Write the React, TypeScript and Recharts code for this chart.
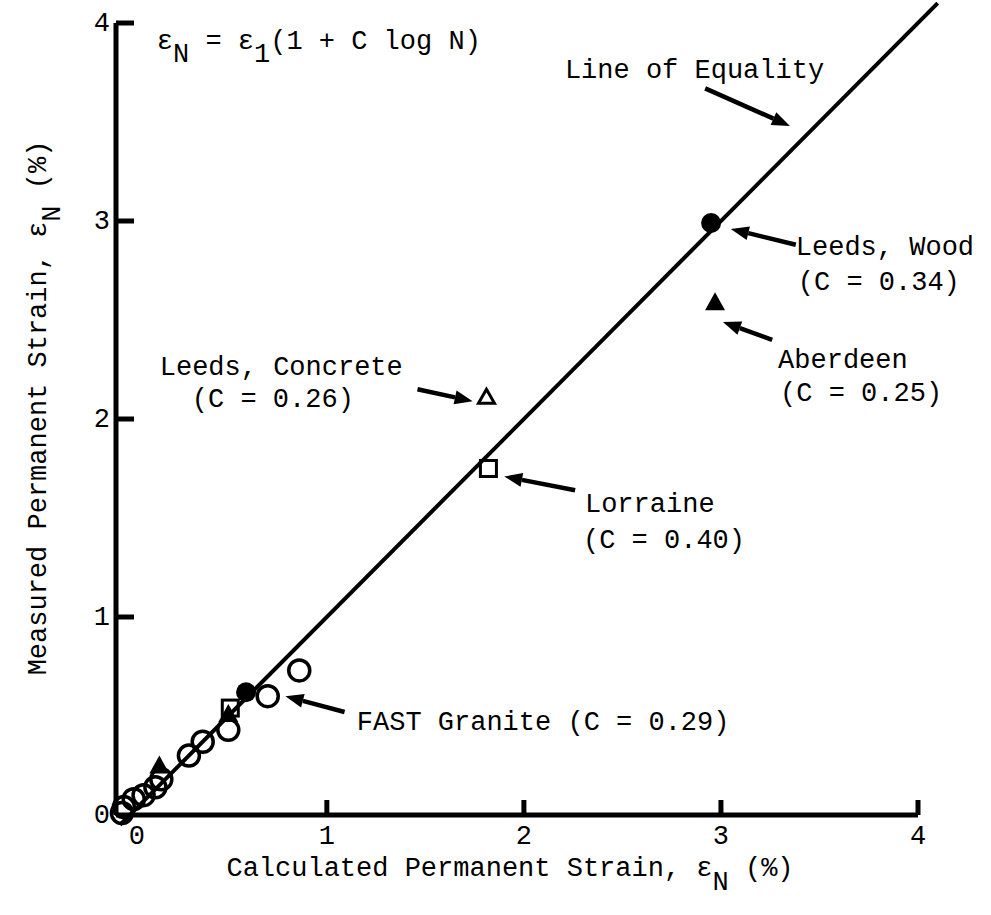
import React from "react";
import { ScatterChart, Scatter, XAxis, YAxis, ReferenceLine, ReferenceDot, Label } from "recharts";

const FONT = "'Liberation Mono', 'DejaVu Sans Mono', monospace";
const FS = 27;

// FAST Granite (open circles)
const fastCalc = [-0.04, -0.03, 0.02, 0.07, 0.13, 0.16, 0.3, 0.37, 0.5, 0.7, 0.86];
const fastMeas = [0.01, 0.04, 0.08, 0.1, 0.14, 0.18, 0.3, 0.37, 0.43, 0.6, 0.73];
// Leeds, Wood (filled circles)
const woodCalc = [0.59, 2.95];
const woodMeas = [0.62, 2.99];
// Aberdeen (filled triangles)
const aberCalc = [0.15, 0.5, 2.97];
const aberMeas = [0.25, 0.51, 2.59];
// Lorraine (open squares)
const lorrCalc = [0.51, 1.82];
const lorrMeas = [0.54, 1.75];
// Leeds, Concrete (open triangle)
const concCalc = [1.81];
const concMeas = [2.11];

const xTicks = [0, 1, 2, 3, 4];
const yTicks = [0, 1, 2, 3, 4];
const equalityLine = [-0.05, 4.1];

const notes = [
  { text: "Line of Equality", x: 2.208, y: 3.72 },
  { text: "Leeds, Wood", x: 3.38, y: 2.83 },
  { text: "(C = 0.34)", x: 3.39, y: 2.65 },
  { text: "Aberdeen", x: 3.29, y: 2.26 },
  { text: "(C = 0.25)", x: 3.3, y: 2.09 },
  { text: "Leeds, Concrete", x: 0.152, y: 2.22 },
  { text: "(C = 0.26)", x: 0.315, y: 2.06 },
  { text: "Lorraine", x: 2.31, y: 1.53 },
  { text: "(C = 0.40)", x: 2.3, y: 1.35 },
  { text: "FAST Granite (C = 0.29)", x: 1.152, y: 0.43 },
];

// tail -> head
const arrows = [
  { from: [2.92, 3.67], to: [3.35, 3.48] },
  { from: [3.38, 2.88], to: [3.05, 2.96] },
  { from: [3.26, 2.4], to: [3.01, 2.49] },
  { from: [1.46, 2.15], to: [1.74, 2.09] },
  { from: [2.26, 1.64], to: [1.9, 1.71] },
  { from: [1.09, 0.52], to: [0.79, 0.6] },
];

const toPoints = (xs: number[], ys: number[]) => xs.map((x, i) => ({ x, y: ys[i] }));

const OpenCircle = (p: any) => <circle cx={p.cx} cy={p.cy} r={10.5} fill="none" stroke="#000" strokeWidth={3.5} />;
const FilledCircle = (p: any) => <circle cx={p.cx} cy={p.cy} r={10} fill="#000" />;
const FilledTriangle = (p: any) => (
  <polygon points={`${p.cx},${p.cy - 10} ${p.cx - 10},${p.cy + 8} ${p.cx + 10},${p.cy + 8}`} fill="#000" />
);
const OpenTriangle = (p: any) => (
  <polygon points={`${p.cx},${p.cy - 8} ${p.cx - 8},${p.cy + 6} ${p.cx + 8},${p.cy + 6}`} fill="none" stroke="#000" strokeWidth={3} />
);
const OpenSquare = (p: any) => (
  <rect x={p.cx - 8} y={p.cy - 8} width={16} height={16} fill="none" stroke="#000" strokeWidth={3} />
);

const Arrow = (p: any) => {
  const { x1, y1, x2, y2 } = p;
  const a = Math.atan2(y2 - y1, x2 - x1);
  const L = 18, W = 7;
  const bx = x2 - L * Math.cos(a), by = y2 - L * Math.sin(a);
  const px = -Math.sin(a) * W, py = Math.cos(a) * W;
  return (
    <g>
      <line x1={x1} y1={y1} x2={bx} y2={by} stroke="#000" strokeWidth={4.5} />
      <polygon points={`${x2},${y2} ${bx + px},${by + py} ${bx - px},${by - py}`} fill="#000" />
    </g>
  );
};

const XTick = (p: any) => {
  const v = p.payload.value;
  return (
    <g>
      {v !== 0 && <line x1={p.x} x2={p.x} y1={p.y} y2={p.y - 15} stroke="#000" strokeWidth={5} />}
      <text x={p.x + (v === 0 ? 7 : 0)} y={p.y + 29} textAnchor="middle" fontFamily={FONT} fontSize={FS} fill="#000">
        {v}
      </text>
    </g>
  );
};

const YTick = (p: any) => {
  const v = p.payload.value;
  return (
    <g>
      {v !== 0 && <line x1={p.x} x2={p.x + 18} y1={p.y} y2={p.y} stroke="#000" strokeWidth={5} />}
      <text x={p.x - 6} y={p.y + 8} textAnchor="end" fontFamily={FONT} fontSize={FS} fill="#000">
        {v}
      </text>
    </g>
  );
};

export default function App() {
  return (
    <div style={{ position: "absolute", left: 0, top: 0, background: "#fff" }}>
      <ScatterChart width={991} height={915} margin={{ top: 23, right: 73, bottom: 0, left: 0 }}>
        <XAxis
          type="number"
          dataKey="x"
          domain={[-0.07, 4]}
          ticks={xTicks}
          height={100}
          tickSize={0}
          tickMargin={0}
          tickLine={false}
          axisLine={{ stroke: "#000", strokeWidth: 5 }}
          tick={XTick}
        >
          <Label
            content={(props: any) => {
              const vb = props.viewBox;
              const cx = vb.x + vb.width / 2 - 7;
              return (
                <text x={cx} y={vb.y + 61} textAnchor="middle" fontFamily={FONT} fontSize={FS} fill="#000">
                  <tspan>Calculated Permanent Strain, ε</tspan>
                  <tspan dy={14}>N</tspan>
                  <tspan dy={-14}> (%)</tspan>
                </text>
              );
            }}
          />
        </XAxis>
        <YAxis
          type="number"
          dataKey="y"
          domain={[0, 4]}
          ticks={yTicks}
          width={116}
          tickSize={0}
          tickMargin={0}
          tickLine={false}
          axisLine={{ stroke: "#000", strokeWidth: 5 }}
          tick={YTick}
        >
          <Label
            content={() => (
              <text
                x={46}
                y={408}
                transform="rotate(-90, 46, 408)"
                textAnchor="middle"
                fontFamily={FONT}
                fontSize={FS}
                fill="#000"
              >
                <tspan>Measured Permanent Strain, ε</tspan>
                <tspan dy={14}>N</tspan>
                <tspan dy={-14}> (%)</tspan>
              </text>
            )}
          />
        </YAxis>

        <ReferenceLine
          segment={[
            { x: equalityLine[0], y: equalityLine[0] },
            { x: equalityLine[1], y: equalityLine[1] },
          ]}
          ifOverflow="visible"
          stroke="#000"
          strokeWidth={4}
        />

        {arrows.map((a, i) => (
          <ReferenceLine
            key={"a" + i}
            segment={[
              { x: a.from[0], y: a.from[1] },
              { x: a.to[0], y: a.to[1] },
            ]}
            ifOverflow="visible"
            shape={Arrow}
          />
        ))}

        {notes.map((n, i) => (
          <ReferenceDot
            key={"n" + i}
            x={n.x}
            y={n.y}
            ifOverflow="visible"
            shape={(p: any) => (
              <text x={p.cx} y={p.cy} fontFamily={FONT} fontSize={FS} fill="#000">
                {n.text}
              </text>
            )}
          />
        ))}

        <ReferenceDot
          x={0.137}
          y={3.87}
          ifOverflow="visible"
          shape={(p: any) => (
            <text x={p.cx} y={p.cy} fontFamily={FONT} fontSize={FS} fill="#000">
              <tspan>ε</tspan>
              <tspan dy={13}>N</tspan>
              <tspan dy={-13}> = ε</tspan>
              <tspan dy={13}>1</tspan>
              <tspan dy={-13}>(1 + C log N)</tspan>
            </text>
          )}
        />

        <Scatter data={toPoints(fastCalc, fastMeas)} shape={OpenCircle} isAnimationActive={false} />
        <Scatter data={toPoints(lorrCalc, lorrMeas)} shape={OpenSquare} isAnimationActive={false} />
        <Scatter data={toPoints(concCalc, concMeas)} shape={OpenTriangle} isAnimationActive={false} />
        <Scatter data={toPoints(aberCalc, aberMeas)} shape={FilledTriangle} isAnimationActive={false} />
        <Scatter data={toPoints(woodCalc, woodMeas)} shape={FilledCircle} isAnimationActive={false} />
      </ScatterChart>
    </div>
  );
}
